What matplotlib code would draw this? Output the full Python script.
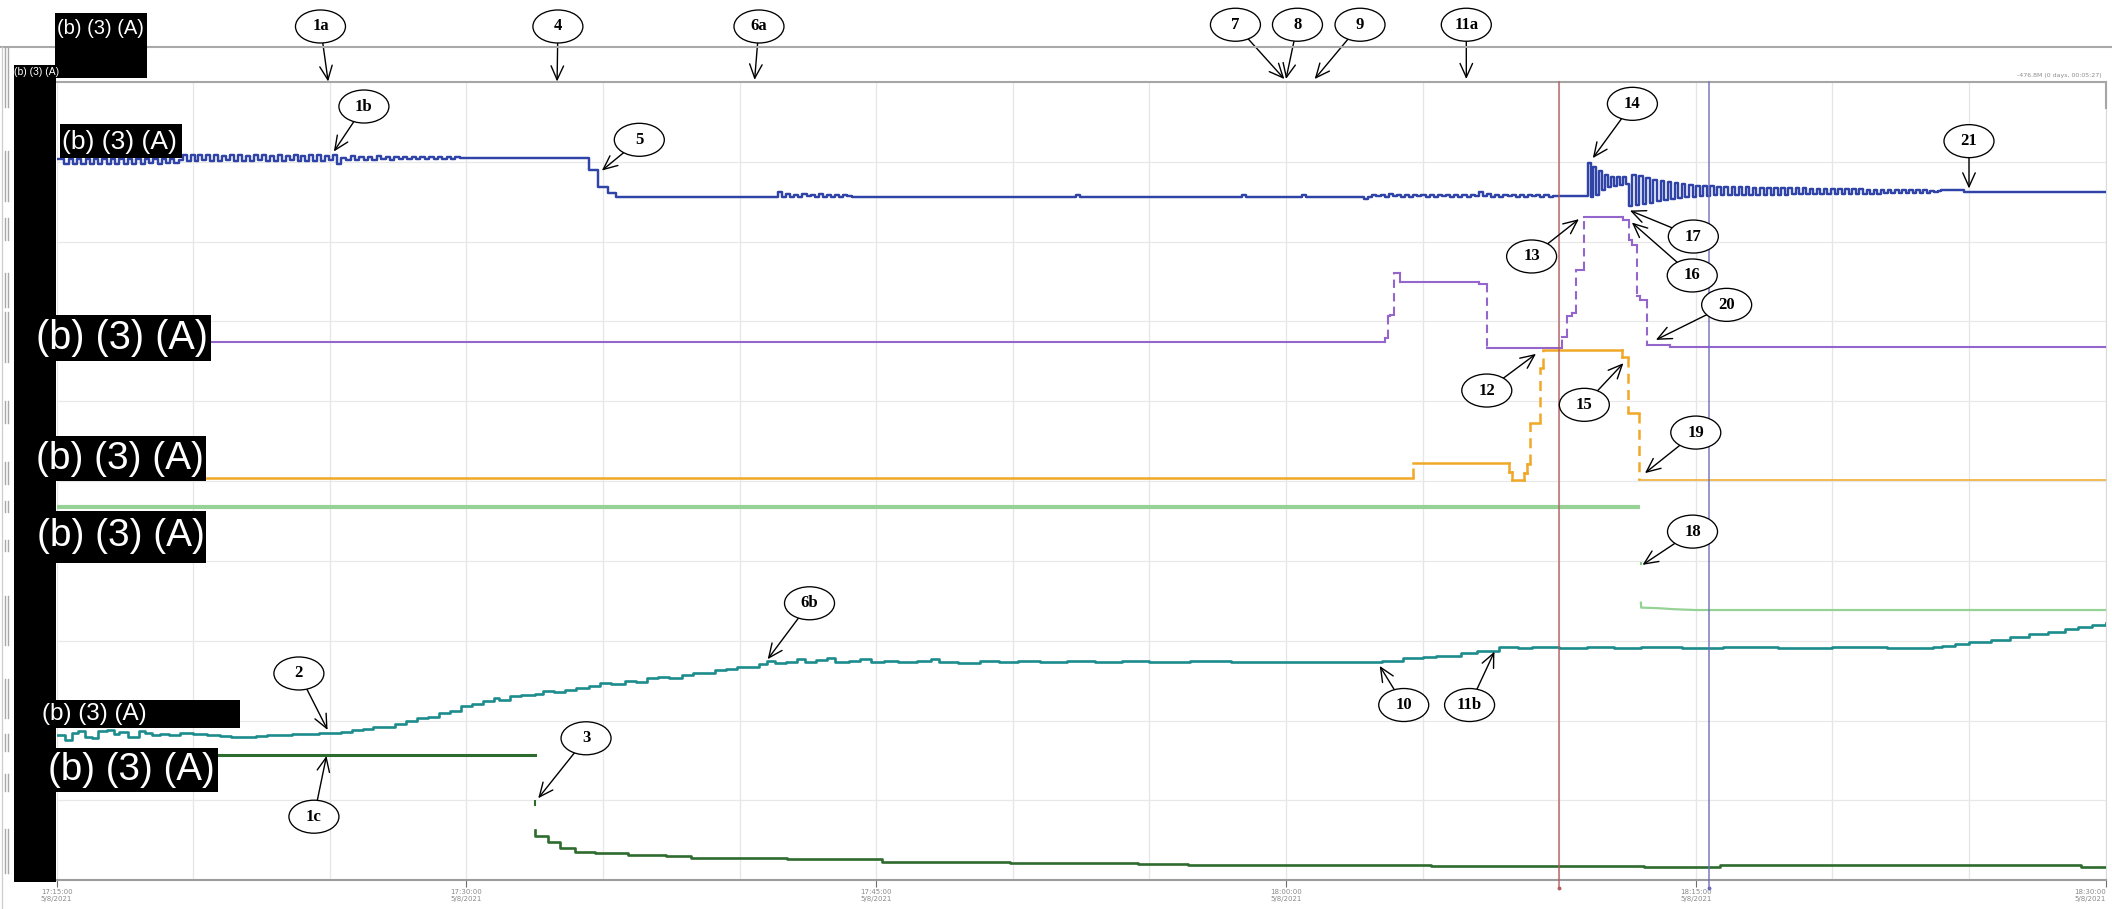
import matplotlib
matplotlib.use("Agg")
import matplotlib.pyplot as plt
from matplotlib.patches import Ellipse, Rectangle
from matplotlib.lines import Line2D
from matplotlib.ticker import MultipleLocator
import numpy as np

FIG_W, FIG_H, DPI = 2112, 909, 100

# ---------------- time axis (minutes after 17:15:00) ----------------
t_start, t_end = 0.0, 75.0
tick_minutes = [0, 15, 30, 45, 60, 75]
tick_labels = ["17:15:00\n5/8/2021", "17:30:00\n5/8/2021", "17:45:00\n5/8/2021",
               "18:00:00\n5/8/2021", "18:15:00\n5/8/2021", "18:30:00\n5/8/2021"]
grid_step_minutes = 5

# shared level scale: ten stacked bands
level_top = 592.5
band_height = 59.25

# ---------------- blue trace ----------------
# square-wave bursts: start minute, period, first-half levels, second-half levels
blue_a_start, blue_a_period = 0.13, 0.31
blue_a_top = [535.3, 535.2, 535.3, 535.2, 535.2, 535.3, 535.2, 535.1, 535.2, 535.2, 535.1, 535.2, 535.1, 535.0]
blue_a_dip = [531.5, 531.8, 531.4, 531.7, 531.6, 531.9, 531.5, 531.8, 531.7, 531.9, 532.1, 532.0, 532.3, 532.6]
blue_b_start, blue_b_period = 4.47, 0.29
blue_b_base = [534.3, 534.2, 534.2, 534.3, 534.1, 534.2, 534.3, 534.2, 534.1, 534.2,
               534.3, 534.2, 534.2, 534.1, 534.3, 534.2, 534.2, 534.1, 534.2, 534.3]
blue_b_bump = [538.0, 538.3, 538.1, 538.2, 538.0, 537.9, 538.2, 538.1, 537.8, 538.0,
               538.2, 537.9, 538.0, 537.8, 538.1, 537.9, 538.0, 538.2, 537.9, 538.1]
blue_notch_t = [10.27, 10.42]
blue_notch_v = [531.7, 536.4]
blue_c_start, blue_c_period = 10.6, 0.32
blue_c_base = [534.8, 534.9, 534.8, 534.9, 535.0, 534.9, 535.0, 535.1, 535.0, 535.2, 535.1, 535.3, 535.3]
blue_c_bump = [537.4, 537.2, 537.0, 537.3, 537.1, 537.0, 536.8, 537.0, 536.9, 536.7, 536.8, 536.6, 536.5]
blue_drop_t = [14.76, 17.2, 18.1, 19.48, 19.82, 20.17, 20.46]
blue_drop_v = [535.9, 536.2, 535.8, 527.5, 514.5, 510.0, 507.5]
blue_d_start, blue_d_period = 26.4, 0.3
blue_d_bump = [510.8, 509.6, 509.0, 509.3, 508.9, 509.2, 508.8, 509.0, 508.7]
blue_d_base = [507.5, 507.4, 507.5, 507.6, 507.5, 507.4, 507.5, 507.5, 507.6]
blue_mid_t = [29.1, 37.3, 37.45, 43.4, 43.55, 45.6, 45.75]
blue_mid_v = [507.5, 508.6, 507.5, 508.3, 507.4, 508.5, 507.5]
blue_e_start, blue_e_period = 47.86, 0.3
blue_e_first = [505.6, 509.0, 508.8, 509.2, 508.9, 508.7, 509.0, 508.8, 508.6, 508.9, 508.7, 508.8,
                508.6, 508.5, 511.2, 509.5, 508.9, 509.0, 508.7, 508.8, 508.6, 508.7, 508.5]
blue_e_second = [507.3, 507.6, 507.4, 507.6, 507.5, 507.4, 507.6, 507.5, 507.4, 507.6, 507.5, 507.4,
                 507.5, 507.6, 507.8, 507.5, 507.4, 507.6, 507.5, 507.4, 507.6, 507.5, 507.5]
blue_pre_t = [54.76]
blue_pre_v = [507.6]
blue_f_start, blue_f_period = 56.04, 0.214
blue_f_peak = [532.7, 529.3, 526.8, 523.6, 522.3, 522.0, 522.0]
blue_f_trough = [507.0, 508.7, 512.5, 514.9, 515.5, 516.2, 516.5]
blue_g_start, blue_g_period = 57.54, 0.26
blue_g_low = [500.1, 501.0, 502.0, 503.0, 504.0, 505.0, 505.8, 506.5, 507.0, 507.5, 507.9, 508.2,
              508.4, 508.6, 508.7, 508.7, 508.8, 508.8, 508.9, 508.9, 509.0, 509.0, 509.0, 509.1,
              509.1, 509.2, 509.2, 509.3, 509.3, 509.4, 509.4, 509.5, 509.5, 509.6, 509.6, 509.7,
              509.8, 509.9, 510.0, 510.1, 510.2, 510.3, 510.4, 510.5]
blue_g_high = [523.5, 522.5, 521.0, 520.0, 519.0, 518.0, 517.3, 516.7, 516.0, 515.6, 515.3, 515.0,
               514.8, 514.6, 514.5, 514.3, 514.2, 514.0, 514.0, 513.9, 513.8, 513.7, 513.7, 513.6,
               513.5, 513.4, 513.3, 513.2, 513.1, 513.0, 512.9, 512.8, 512.8, 512.7, 512.6, 512.5,
               512.5, 512.4, 512.3, 512.2, 512.1, 512.0, 511.9, 511.8]
blue_tail_t = [68.98, 69.8, 75.0]
blue_tail_v = [512.3, 511.0, 511.0]

# ---------------- purple trace (step levels) ----------------
purple_t = [0.0, 48.63, 48.72, 48.79, 48.97, 49.16, 52.05, 52.36, 55.10, 55.28, 55.46, 55.62,
            55.92, 57.35, 57.54, 57.66, 57.84, 57.96, 58.21, 59.07, 75.0]
purple_v = [399.8, 402.2, 418.5, 419.5, 450.5, 443.7, 442.5, 394.9, 403.5, 418.5, 421.0, 453.1,
            492.6, 490.2, 475.5, 471.6, 433.3, 430.8, 397.5, 396.1, 396.1]

# ---------------- orange trace ----------------
orange_t = [0.0, 49.65, 53.15, 53.27, 53.70, 53.82, 53.94, 54.28, 54.40, 57.29, 57.53, 57.93]
orange_v = [298.4, 309.5, 303.3, 297.1, 302.1, 309.0, 339.2, 380.0, 393.7, 388.7, 346.7, 297.1]
orange_tail_t = [57.93, 75.0]
orange_tail_v = [297.1, 297.1]

# ---------------- light green trace ----------------
lgreen_t = [0.0, 57.96]
lgreen_v = [277.4, 277.4]
lgreen_mark_t = [57.99]
lgreen_mark_lo, lgreen_mark_hi = [234.1], [236.2]
lgreen_tail_t = [57.99, 58.0, 58.6, 59.2, 59.99, 75.0]
lgreen_tail_v = [206.1, 202.4, 202.0, 201.2, 200.6, 200.6]

# ---------------- teal trace ----------------
teal_trace = [
    (0.0, 107.5), (0.3, 104.5), (0.55, 109.5), (0.8, 110.5), (1.05, 106.0), (1.3, 105.5),
    (1.5, 110.8), (1.85, 111.5), (2.1, 108.5), (2.3, 110.0), (2.6, 106.5), (2.8, 106.0),
    (3.0, 110.5), (3.25, 109.5), (3.5, 108.0), (3.8, 108.5), (4.1, 107.5), (4.5, 109.5),
    (5.0, 108.3), (5.5, 107.5), (6.0, 106.8), (6.4, 106.0), (6.8, 106.3), (7.3, 106.8),
    (7.7, 107.8), (8.2, 108.0), (8.6, 108.6), (9.1, 108.3), (9.6, 109.0), (10.0, 109.1),
    (10.4, 110.2), (10.8, 111.2), (11.2, 112.5), (11.6, 114.0), (12.0, 113.5), (12.4, 116.0),
    (12.8, 118.0), (13.2, 120.5), (13.6, 121.5), (14.0, 124.5), (14.4, 126.0), (14.8, 129.0),
    (15.2, 130.5), (15.6, 133.0), (16.0, 135.5), (16.2, 133.5), (16.6, 136.5), (17.0, 137.5),
    (17.5, 138.0), (17.8, 140.5), (18.2, 140.0), (18.6, 141.3), (19.0, 143.0), (19.5, 144.5),
    (19.9, 146.2), (20.3, 145.5), (20.8, 148.0), (21.2, 147.5), (21.6, 150.0), (22.0, 151.1),
    (22.4, 150.5), (22.9, 152.5), (23.3, 154.0), (23.7, 153.5), (24.1, 156.1), (24.5, 157.0),
    (24.9, 158.5), (25.3, 158.0), (25.7, 160.5), (26.0, 163.0), (26.3, 161.5), (26.7, 162.3),
    (27.1, 164.5), (27.4, 162.0), (27.8, 163.5), (28.2, 165.0), (28.5, 162.3), (29.0, 163.0),
    (29.4, 164.5), (29.8, 162.0), (30.3, 163.0), (30.8, 162.0), (31.5, 162.8), (32.0, 164.0),
    (32.3, 162.3), (33.0, 161.5), (33.8, 162.5), (34.5, 162.0), (35.2, 162.8), (36.0, 162.0),
    (37.0, 162.5), (38.0, 162.2), (39.0, 162.6), (40.0, 162.0), (41.5, 162.4), (43.0, 162.1),
    (48.0, 162.0), (48.5, 163.0), (49.3, 164.8), (50.0, 165.5), (50.5, 166.8), (51.4, 168.5),
    (52.0, 170.0), (52.8, 173.0), (53.5, 172.5), (54.0, 173.2), (55.0, 172.6), (56.0, 173.4),
    (57.0, 172.4), (58.0, 173.0), (59.5, 172.4), (61.0, 173.1), (63.0, 172.6), (65.0, 173.0),
    (67.0, 172.7), (68.7, 173.0), (69.0, 174.0), (69.5, 175.5), (70.0, 177.1), (70.8, 178.5),
    (71.5, 180.5), (72.2, 182.5), (72.9, 184.5), (73.5, 186.5), (74.0, 188.0), (74.5, 189.5),
    (75.0, 191.2),
]

# ---------------- dark green trace ----------------
dgreen_t = [0.0, 12.0, 17.53]
dgreen_v = [93.3, 92.8, 92.8]
dgreen_mark_t = [17.53]
dgreen_mark_lo, dgreen_mark_hi = [55.1], [59.5]
dgreen_tail_t = [17.51, 17.53, 18.0, 18.44, 18.98, 19.72, 20.91, 22.29, 23.22, 26.73, 30.23,
                 34.91, 39.6, 41.42, 50.3, 58.1, 60.9, 74.1, 75.0]
dgreen_tail_v = [37.4, 32.9, 28.7, 23.7, 21.2, 20.0, 18.8, 18.0, 16.8, 15.5, 13.8,
                 12.6, 12.1, 11.3, 10.6, 10.1, 11.3, 10.1, 10.1]

# ---------------- cursors ----------------
cursor_minutes = [55.0, 60.49]
cursor_colors = ["#b45c5e", "#6c6cbc"]

# ---------------- numbered callouts ----------------
note_labels = ["1a", "4", "6a", "7", "8", "9", "11a", "1b", "5", "14", "13", "17", "16", "20",
               "12", "15", "19", "18", "21", "2", "1c", "3", "6b", "10", "11b"]
note_center_t = [9.66, 18.35, 25.71, 43.15, 45.42, 47.71, 51.6, 11.25, 21.33, 57.68, 53.99, 59.91,
                 59.87, 61.13, 52.35, 55.92, 60.0, 59.88, 70.0, 8.87, 9.42, 19.38, 27.56, 49.31, 51.72]
note_center_v = [633.7, 633.7, 633.7, 635.0, 635.0, 635.0, 635.0, 574.3, 549.6, 576.3, 463.0, 477.8,
                 448.9, 427.1, 363.5, 352.9, 332.3, 258.8, 548.6, 153.5, 47.2, 105.4, 205.6, 130.1, 130.1]
note_tip_t = [9.94, 18.32, 25.55, 44.94, 45.0, 46.05, 51.6, 10.15, 19.96, 56.23, 55.72, 57.59,
              57.66, 58.54, 54.15, 57.35, 58.14, 58.05, 70.0, 9.92, 9.88, 17.63, 26.03, 48.43, 52.63]
note_tip_v = [592.9, 592.9, 594.1, 594.7, 594.7, 594.7, 594.7, 540.9, 526.8, 536.0, 490.7, 497.1,
              488.2, 401.1, 390.7, 383.8, 302.2, 234.1, 513.5, 111.6, 92.3, 60.9, 164.1, 159.1, 169.7]

redaction = "(b) (3) (A)"
status_text = "-476.8M (0 days, 00:05:27)"


def burst(t0, period, first, second):
    ts, vs = [], []
    for i, (a, b) in enumerate(zip(first, second)):
        ts += [t0 + i * period, t0 + (i + 0.5) * period]
        vs += [a, b]
    return ts, vs


def assemble_blue():
    t, v = [0.0], [535.2]
    for part in (burst(blue_a_start, blue_a_period, blue_a_top, blue_a_dip),
                 burst(blue_b_start, blue_b_period, blue_b_base, blue_b_bump),
                 (blue_notch_t, blue_notch_v),
                 burst(blue_c_start, blue_c_period, blue_c_base, blue_c_bump),
                 (blue_drop_t, blue_drop_v),
                 burst(blue_d_start, blue_d_period, blue_d_bump, blue_d_base),
                 (blue_mid_t, blue_mid_v),
                 burst(blue_e_start, blue_e_period, blue_e_first, blue_e_second),
                 (blue_pre_t, blue_pre_v),
                 burst(blue_f_start, blue_f_period, blue_f_peak, blue_f_trough),
                 burst(blue_g_start, blue_g_period, blue_g_low, blue_g_high),
                 (blue_tail_t, blue_tail_v)):
        t += list(part[0])
        v += list(part[1])
    return t, v


def draw_levels(ax, t, v, color, lw, dash_min=8.0, z=5):
    """Step trace with solid holds and dashed fast transitions."""
    for i in range(len(t) - 1):
        ax.plot([t[i], t[i + 1]], [v[i], v[i]], color=color, lw=lw,
                solid_capstyle="projecting", zorder=z)
        dv = v[i + 1] - v[i]
        if dv != 0:
            ls = (0, (4, 2.5)) if abs(dv) > dash_min else "-"
            ax.plot([t[i + 1], t[i + 1]], [v[i], v[i + 1]], color=color, lw=lw,
                    linestyle=ls, solid_capstyle="projecting", zorder=z)


def fx(x):
    return x / FIG_W


def fy(y):
    return 1 - y / FIG_H


fig = plt.figure(figsize=(FIG_W / DPI, FIG_H / DPI), dpi=DPI)
fig.patch.set_facecolor("white")

ax_left, ax_right, ax_top, ax_bottom = 56.57, 2105.6, 82.0, 880.3
ax = fig.add_axes([fx(ax_left), fy(ax_bottom), (ax_right - ax_left) / FIG_W,
                   (ax_bottom - ax_top) / FIG_H])
ax.set_xlim(t_start, t_end)
ax.set_ylim(0, level_top)

# grid
ax.set_xticks(tick_minutes, tick_labels)
ax.xaxis.set_minor_locator(MultipleLocator(grid_step_minutes))
ax.set_yticks(np.arange(band_height, level_top - 1, band_height))
ax.grid(axis="x", which="both", color="#e6e6e6", lw=0.9, zorder=0)
ax.grid(axis="y", which="major", color="#e8e8e8", lw=0.9, zorder=0)
ax.set_axisbelow(True)
ax.tick_params(axis="y", left=False, labelleft=False)
ax.tick_params(axis="x", which="minor", length=0)
ax.tick_params(axis="x", which="major", direction="out", length=5, width=0.8,
               color="#6e6e6e", labelsize=5, labelcolor="#8a8a8a", pad=1.5)
xlabels = ax.get_xticklabels()
for lab in xlabels:
    lab.set_linespacing(1.15)
xlabels[-1].set_horizontalalignment("right")
ax.spines["left"].set_visible(False)
ax.spines["right"].set_color("#dadada")
ax.spines["right"].set_linewidth(0.8)
ax.spines["top"].set_color("#a6a6a6")
ax.spines["top"].set_linewidth(1.5)
ax.spines["bottom"].set_color("#9c9c9c")
ax.spines["bottom"].set_linewidth(1.5)

# traces
bt, bv = assemble_blue()
ax.step(bt, bv, where="post", color="#3044a8", lw=1.75, zorder=5)

draw_levels(ax, purple_t, purple_v, "#9466cc", 1.5)

draw_levels(ax, orange_t, orange_v, "#f0a828", 1.8)
ax.plot(orange_tail_t, orange_tail_v, color="#f0a828", lw=1.1, zorder=5)

ax.plot(lgreen_t, lgreen_v, color="#96d296", lw=3.0, solid_capstyle="butt", zorder=5)
ax.vlines(lgreen_mark_t, lgreen_mark_lo, lgreen_mark_hi, color="#88cc88", lw=1.5, zorder=5)
ax.plot(lgreen_tail_t, lgreen_tail_v, color="#96d296", lw=1.6, zorder=5)

teal_t = [p[0] for p in teal_trace]
teal_v = [p[1] for p in teal_trace]
ax.step(teal_t, teal_v, where="post", color="#1c8c8c", lw=1.9, zorder=5)

ax.step(dgreen_t, dgreen_v, where="post", color="#2e6b2e", lw=2.2, zorder=5)
ax.vlines(dgreen_mark_t, dgreen_mark_lo, dgreen_mark_hi, color="#2e6b2e", lw=1.5, zorder=5)
ax.step(dgreen_tail_t, dgreen_tail_v, where="post", color="#2e6b2e", lw=1.9, zorder=5)

# cursors
px_per_level = (ax_bottom - ax_top) / level_top
cursor_bottom = -7.7 / px_per_level
for ct, cc in zip(cursor_minutes, cursor_colors):
    ax.plot([ct, ct], [level_top, cursor_bottom], color=cc, lw=1.1, alpha=0.9,
            clip_on=False, zorder=7)
    ax.plot([ct], [cursor_bottom], "o", ms=1.8, color=cc, clip_on=False, zorder=7)

# callouts
px_per_min = (ax_right - ax_left) / (t_end - t_start)
ell_w, ell_h = 50.0, 33.0
for lab, ct, cv, tt, tv in zip(note_labels, note_center_t, note_center_v, note_tip_t, note_tip_v):
    ax.add_patch(Ellipse((ct, cv), ell_w / px_per_min, ell_h / px_per_level,
                         facecolor="white", edgecolor="black", lw=0.95,
                         clip_on=False, zorder=20))
    ax.text(ct, cv, lab, ha="center", va="center", fontsize=12,
            family="Liberation Serif", weight="bold", clip_on=False, zorder=21)
    dx = (tt - ct) * px_per_min
    dy = (tv - cv) * px_per_level
    s = 1.0 / np.sqrt((dx / (ell_w / 2)) ** 2 + (dy / (ell_h / 2)) ** 2)
    ax.annotate("", xy=(tt, tv), xytext=(ct + s * (tt - ct), cv + s * (tv - cv)),
                arrowprops=dict(arrowstyle="->,head_length=1.0,head_width=0.45",
                                lw=1.0, color="black", shrinkA=0, shrinkB=0,
                                mutation_scale=10),
                annotation_clip=False, zorder=19)

# window frame around the plot
fig.add_artist(Line2D([0, 1], [fy(46.7), fy(46.7)], transform=fig.transFigure,
                      color="#a9a9a9", lw=1.5))
fig.add_artist(Line2D([fx(2.0), fx(2.0)], [fy(47), 0], transform=fig.transFigure,
                      color="#cdcdcd", lw=0.9))
strip_ranges = [(47, 107), (151, 201), (218, 240), (273, 307), (312, 362), (401, 423),
                (462, 484), (501, 512), (540, 551), (596, 645), (679, 718), (734, 751),
                (774, 791), (829, 873)]
for y0, y1 in strip_ranges:
    for xx in (4.5, 8.0):
        fig.add_artist(Line2D([fx(xx), fx(xx)], [fy(y0), fy(y1)], transform=fig.transFigure,
                              color="#a8a8a8", lw=1.0))
fig.add_artist(Line2D([fx(2106), fx(2106)], [fy(82), fy(108)], transform=fig.transFigure,
                      color="#a6a6a6", lw=1.5))
fig.text(fx(2102), fy(75), status_text, ha="right", va="center", fontsize=4.5, color="#8c8c8c")

# redaction blocks: (x0, y0, x1, y1, text x, text y, font size)
blocks = [
    (13.5, 65, 56, 882, 14.5, 72, 7.4),
    (55, 13, 147, 78, 57, 29, 14.5),
    (60, 124, 182, 158, 62, 141.5, 19),
    (34, 315, 211, 361, 36, 338, 28.5),
    (34, 436, 206, 481, 36, 459, 28),
    (34, 511, 206, 563, 37, 536, 28),
    (40, 700, 240, 728, 42, 714, 17.5),
    (46, 748, 218, 792, 48, 770, 27.8),
]
for x0, y0, x1, y1, tx, ty, fs in blocks:
    fig.add_artist(Rectangle((fx(x0), fy(y1)), (x1 - x0) / FIG_W, (y1 - y0) / FIG_H,
                             transform=fig.transFigure, facecolor="black",
                             edgecolor="none", zorder=30))
    fig.text(fx(tx), fy(ty), redaction, ha="left", va="center", fontsize=fs,
             color="white", family="Liberation Sans", zorder=31)

fig.savefig("out.png", dpi=DPI)
